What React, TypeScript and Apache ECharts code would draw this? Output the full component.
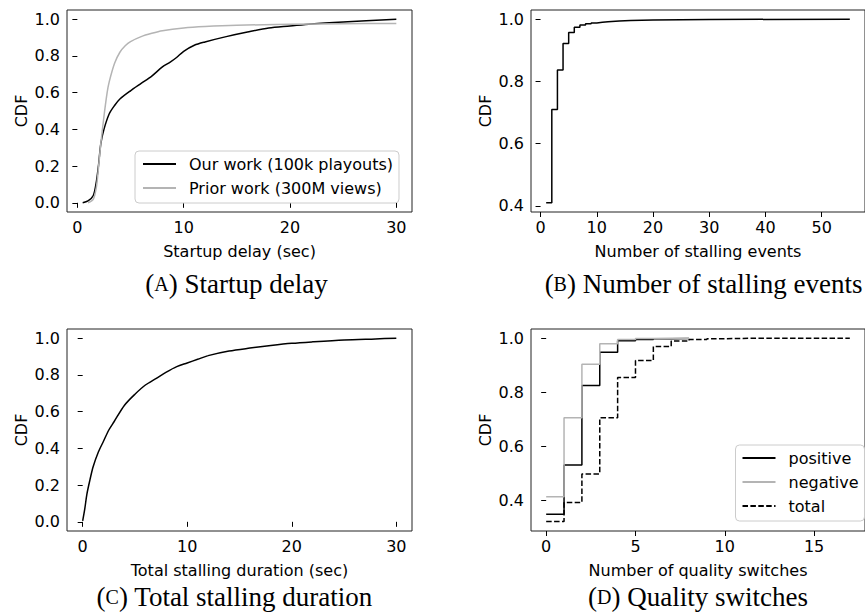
import React, { useEffect, useRef } from 'react';
import * as echarts from 'echarts';

// (A) Startup delay
const startupX = [0.5, 1.0, 1.5, 1.8, 2.0, 2.2, 2.5, 3.0, 3.5, 4, 5, 6, 7, 8, 8.7, 9.3, 10, 11, 12, 14, 16, 18, 20, 22, 25, 30];
const startupOurs = [0, 0.01, 0.04, 0.12, 0.21, 0.32, 0.40, 0.485, 0.53, 0.565, 0.61, 0.65, 0.69, 0.74, 0.765, 0.79, 0.825, 0.858, 0.876, 0.905, 0.93, 0.952, 0.963, 0.974, 0.985, 1.0];
const priorX = [1.0, 1.5, 1.8, 2.0, 2.2, 2.5, 2.8, 3.0, 3.5, 4, 4.5, 5, 6, 7, 8, 10, 12, 15, 20, 25, 30];
const priorCdf = [0, 0.02, 0.09, 0.2, 0.32, 0.47, 0.6, 0.66, 0.76, 0.82, 0.855, 0.878, 0.905, 0.923, 0.937, 0.952, 0.96, 0.967, 0.972, 0.975, 0.977];

// (B) Number of stalling events
const stallCountX = [1, 2, 3, 4, 5, 6, 7, 8, 9, 10, 11, 12, 14, 16, 20, 25, 30, 55];
const stallCountCdf = [0.41, 0.71, 0.837, 0.922, 0.957, 0.974, 0.981, 0.985, 0.988, 0.990, 0.992, 0.994, 0.996, 0.997, 0.998, 0.999, 1.0, 1.0];

// (C) Total stalling duration
const stallDurX = [0, 0.2, 0.4, 0.7, 1, 1.5, 2, 2.5, 3, 4, 5, 6, 7, 8, 9, 10, 11, 12, 14, 16, 18, 20, 22, 25, 28, 30];
const stallDurCdf = [0.005, 0.07, 0.15, 0.23, 0.30, 0.38, 0.44, 0.50, 0.545, 0.635, 0.695, 0.745, 0.78, 0.815, 0.845, 0.865, 0.885, 0.905, 0.93, 0.946, 0.96, 0.972, 0.98, 0.99, 0.996, 1.0];

// (D) Quality switches
const switchX = [0, 1, 2, 3, 4, 5, 6, 7, 8, 9, 10, 11, 12, 13, 14, 15, 16, 17];
const positiveCdf = [0.348, 0.53, 0.825, 0.948, 0.99, 0.995, 0.998, 0.999, 1.0];
const negativeCdf = [0.412, 0.705, 0.903, 0.979, 0.995, 0.999, 1.0, 1.0, 1.0];
const totalCdf = [0.321, 0.391, 0.497, 0.705, 0.854, 0.917, 0.969, 0.989, 0.995, 0.998, 0.999, 1.0, 1.0, 1.0, 1.0, 1.0, 1.0, 1.0];

const xTicksA = [0, 10, 20, 30];
const xTicksB = [0, 10, 20, 30, 40, 50];
const xTicksD = [0, 5, 10, 15];
const yTicksFull = [0, 0.2, 0.4, 0.6, 0.8, 1.0];
const yTicksUpper = [0.4, 0.6, 0.8, 1.0];

const legendA = ['Our work (100k playouts)', 'Prior work (300M views)'];
const legendD = ['positive', 'negative', 'total'];
const captions = ['Startup delay', 'Number of stalling events', 'Total stalling duration', 'Quality switches'];
const captionTags = ['A', 'B', 'C', 'D'];
const xNames = ['Startup delay (sec)', 'Number of stalling events', 'Total stalling duration (sec)', 'Number of quality switches'];

const FONT = 'DejaVu Sans';
const SERIF = 'Liberation Serif';
const BLACK = '#000000';
const GRAY = '#b4b4b4';

const zip = (xs: number[], ys: number[]) => ys.map((y, i) => [xs[i], y]);

function xAxisDef(gridIndex: number, min: number, max: number, ticks: number[], name: string) {
  return {
    type: 'value', gridIndex, min, max, name,
    nameLocation: 'middle', nameGap: 31,
    nameTextStyle: { fontFamily: FONT, fontSize: 16, color: BLACK },
    axisLine: { show: false },
    axisTick: { show: true, customValues: ticks, length: 5, inside: false, lineStyle: { color: BLACK, width: 1 } },
    axisLabel: { show: true, customValues: ticks, margin: 7, fontFamily: FONT, fontSize: 16, color: BLACK, formatter: (v: number) => String(v) },
    splitLine: { show: false },
  };
}

function yAxisDef(gridIndex: number, min: number, max: number, ticks: number[]) {
  return {
    type: 'value', gridIndex, min, max, name: 'CDF',
    nameLocation: 'middle', nameGap: 38,
    nameTextStyle: { fontFamily: FONT, fontSize: 16, color: BLACK },
    axisLine: { show: false },
    axisTick: { show: true, customValues: ticks, length: 5, inside: false, lineStyle: { color: BLACK, width: 1 } },
    axisLabel: { show: true, customValues: ticks, margin: 7, fontFamily: FONT, fontSize: 16, color: BLACK, formatter: (v: number) => v.toFixed(1) },
    splitLine: { show: false },
  };
}

export default function App() {
  const ref = useRef<HTMLDivElement>(null);
  useEffect(() => {
    if (!ref.current) return;
    const chart = echarts.init(ref.current, null, { renderer: 'svg' });
    const gridStyle = { show: true, borderColor: '#222', borderWidth: 1, backgroundColor: 'transparent' };
    const captionPos = [[236.5, 283.5], [703.5, 283.5], [234.5, 597], [698, 597]];
    const lineBase = { type: 'line', symbol: 'none', showSymbol: false, animation: false };
    const legendBase = {
      orient: 'vertical',
      itemWidth: 33, itemHeight: 14, itemGap: 8,
      backgroundColor: 'rgba(255,255,255,0.8)', borderColor: '#cccccc', borderWidth: 1, borderRadius: 4,
      selectedMode: false,
      itemStyle: { opacity: 0 },
      textStyle: { fontFamily: FONT, fontSize: 16, color: BLACK, padding: [0, 0, 0, 8] },
    };
    chart.setOption({
      animation: false,
      grid: [
        { left: 67, top: 10, width: 345, height: 202, ...gridStyle },
        { left: 531, top: 10, width: 347, height: 202, ...gridStyle },
        { left: 67, top: 329, width: 345, height: 202, ...gridStyle },
        { left: 531, top: 329, width: 344, height: 202, ...gridStyle },
      ],
      xAxis: [
        xAxisDef(0, -0.975, 31.475, xTicksA, xNames[0]),
        xAxisDef(1, -1.7, 57.7, xTicksB, xNames[1]),
        xAxisDef(2, -1.5, 31.5, xTicksA, xNames[2]),
        xAxisDef(3, -0.85, 17.85, xTicksD, xNames[3]),
      ],
      yAxis: [
        yAxisDef(0, -0.05, 1.05, yTicksFull),
        yAxisDef(1, 0.3805, 1.0295, yTicksUpper),
        yAxisDef(2, -0.05, 1.05, yTicksFull),
        yAxisDef(3, 0.2855, 1.0339, yTicksUpper),
      ],
      legend: [
        { ...legendBase, data: legendA, left: 135, top: 151, padding: [5, 6, 7, 7] },
        { ...legendBase, data: legendD, left: 735.5, top: 445, padding: [5, 6, 7, 6] },
      ],
      series: [
        { ...lineBase, name: legendA[0], xAxisIndex: 0, yAxisIndex: 0, smooth: 0.3, data: zip(startupX, startupOurs), lineStyle: { color: BLACK, width: 1.5 }, itemStyle: { color: BLACK } },
        { ...lineBase, name: legendA[1], xAxisIndex: 0, yAxisIndex: 0, smooth: 0.3, data: zip(priorX, priorCdf), lineStyle: { color: GRAY, width: 1.5 }, itemStyle: { color: GRAY } },
        { ...lineBase, name: 'stalling events', xAxisIndex: 1, yAxisIndex: 1, step: 'end', data: zip(stallCountX, stallCountCdf), lineStyle: { color: BLACK, width: 1.5 }, itemStyle: { color: BLACK } },
        { ...lineBase, name: 'stalling duration', xAxisIndex: 2, yAxisIndex: 2, smooth: 0.3, data: zip(stallDurX, stallDurCdf), lineStyle: { color: BLACK, width: 1.5 }, itemStyle: { color: BLACK } },
        { ...lineBase, name: legendD[0], xAxisIndex: 3, yAxisIndex: 3, step: 'end', data: zip(switchX, positiveCdf), lineStyle: { color: BLACK, width: 1.5 }, itemStyle: { color: BLACK } },
        { ...lineBase, name: legendD[1], xAxisIndex: 3, yAxisIndex: 3, step: 'end', data: zip(switchX, negativeCdf), lineStyle: { color: GRAY, width: 1.5 }, itemStyle: { color: GRAY } },
        { ...lineBase, name: legendD[2], xAxisIndex: 3, yAxisIndex: 3, step: 'end', data: zip(switchX, totalCdf), lineStyle: { color: BLACK, width: 1.5, type: [5.5, 2.4] }, itemStyle: { color: BLACK } },
      ],
      graphic: captions.map((c, i) => ({
        type: 'text',
        x: captionPos[i][0],
        y: captionPos[i][1],
        style: {
          text: '({sc|' + captionTags[i] + '}) ' + c,
          fontFamily: SERIF,
          fontSize: 27,
          fill: BLACK,
          align: 'center',
          verticalAlign: 'middle',
          rich: { sc: { fontFamily: SERIF, fontSize: 20, fill: BLACK } },
        },
      })),
    });
    return () => chart.dispose();
  }, []);
  return (
    <div
      ref={ref}
      style={{ position: 'absolute', left: 0, top: 0, width: 865, height: 615, overflow: 'hidden', background: '#fff' }}
    />
  );
}
